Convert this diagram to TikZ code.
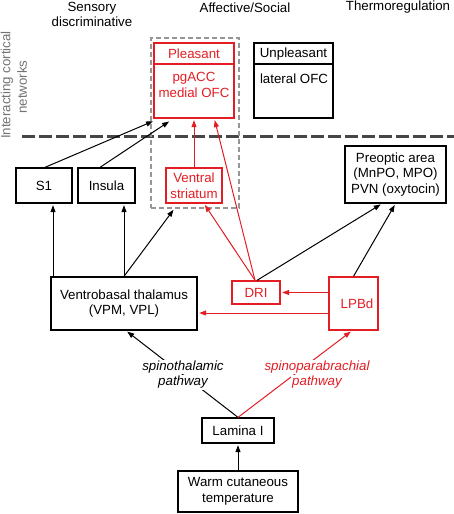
\documentclass[tikz,border=0pt]{standalone}
\usepackage{fontspec}
\setmainfont{Liberation Sans}
\usetikzlibrary{arrows.meta,calc}
\definecolor{myred}{RGB}{226,30,36}
\definecolor{txtgray}{RGB}{115,115,115}
\definecolor{dgray}{RGB}{70,70,70}
\definecolor{lgray}{RGB}{150,150,150}
\begin{document}
\begin{tikzpicture}[x=1pt,y=-1pt,
  font=\fontsize{13.3}{15.5}\selectfont,
  box/.style={draw, line width=1.3pt, inner sep=0pt, align=center},
  redbox/.style={box, draw=myred, text=myred},
  lbl/.style={inner sep=0pt, align=center},
  arr/.style={line width=1pt, -{Triangle[length=7pt,width=5pt]}, shorten >=1.5pt},
  redarr/.style={arr, draw=myred},
  pathlbl/.style={inner sep=1pt, fill=white, font=\fontsize{13.3}{15.5}\selectfont\itshape}
]
\useasboundingbox (0,0) rectangle (454,514);

% headers
\node[lbl] (hs) at (92,14.5) {Sensory\\discriminative};
\node[lbl] (ha) at (245,7.5) {Affective/Social};
\node[lbl] (ht) at (398,7.5) {Thermoregulation};
\node[lbl, rotate=90, text=txtgray] (ic1) at (7,85) {Interacting cortical};
\node[lbl, rotate=90, text=txtgray] (ic2) at (22,87) {networks};

% separator
\coordinate (sepL) at (22,136);
\coordinate (sepR) at (454,136);
\draw[dgray, line width=3pt, dash pattern=on 13pt off 4pt] (sepL) -- (sepR);

% gray dashed box
\node[draw=lgray, line width=1.2pt, dash pattern=on 5pt off 3pt, minimum width=88pt, minimum height=170pt, inner sep=0pt] (dbox) at (195,123) {};

% cortical boxes
\node[redbox, minimum width=80pt, minimum height=75pt] (pl) at (194,80.5) {};
\draw[myred, line width=1.3pt] (pl.west |- 0,64) -- (pl.east |- 0,64);
\node[lbl, text=myred] (plt) at (194,54) {Pleasant};
\node[lbl, text=myred] (plb) at (194,85) {pgACC\\medial OFC};

\node[box, minimum width=79pt, minimum height=75pt] (un) at (293.5,80.5) {};
\draw[line width=1.3pt] (un.west |- 0,64) -- (un.east |- 0,64);
\node[lbl] (unt) at (293.5,54) {Unpleasant};
\node[lbl] (unb) at (294,79) {lateral OFC};

% middle row
\node[box, minimum width=56pt, minimum height=35pt] (s1) at (44,185.5) {S1};
\node[box, minimum width=57pt, minimum height=35pt] (ins) at (106.5,185.5) {Insula};
\node[redbox, minimum width=56pt, minimum height=35pt] (vs) at (194,185.5) {Ventral\\striatum};
\node[box, minimum width=101pt, minimum height=57pt] (po) at (395.5,174.5) {Preoptic area\\(MnPO, MPO)\\PVN (oxytocin)};

% lower row
\node[box, minimum width=146pt, minimum height=53pt] (vb) at (124,303.5) {Ventrobasal thalamus\\(VPM, VPL)};
\node[redbox, minimum width=48pt, minimum height=23pt] (dri) at (256,292.5) {DRI};
\node[redbox, minimum width=49pt, minimum height=53pt] (lpb) at (353.5,303.5) {\hspace{7pt}LPBd};

\node[box, minimum width=72pt, minimum height=25pt] (lam) at (238,430.5) {Lamina I};
\node[box, minimum width=120pt, minimum height=41pt] (warm) at (238,491.5) {Warm cutaneous\\temperature};

% arrows
\draw[arr] (warm.north) -- (lam.south);
\draw[arr] (lam.north) -- ([shift={(2,0)}]vb.south);
\draw[redarr] (lam.north) -- ([shift={(-1.5,0)}]lpb.south);
\node[pathlbl] (st1) at (183,367) {spinothalamic};
\node[pathlbl] (st2) at (183,382.5) {pathway};
\node[pathlbl, text=myred] (sp1) at (317,367) {spinoparabrachial};
\node[pathlbl, text=myred] (sp2) at (317,382.5) {pathway};

\draw[redarr] (dri.east -| lpb.west) -- (dri.east);
\draw[redarr] ([shift={(0,9.5)}]lpb.west) -- ([shift={(0,9.5)}]vb.east);

\draw[arr] ([shift={(9,0)}]s1.south |- vb.north) -- ([shift={(9,0)}]s1.south);
\draw[arr] (vb.north) -- (vb.north |- ins.south);
\draw[arr] (vb.north) -- ([shift={(24,0)}]dbox.south west);

\draw[redarr] ([shift={(-1,0)}]dri.north) -- ([shift={(10,0)}]vs.south);
\draw[redarr] ([shift={(-1,0)}]dri.north) -- ([shift={(61,0)}]pl.south west);
\draw[arr] ([shift={(1,0)}]dri.north) -- ([shift={(-13.5,0)}]po.south);
\draw[arr] (lpb.north) -- (po.south);

\draw[redarr] (vs.north) -- (vs.north |- pl.south);
\draw[arr] ([shift={(1,0)}]s1.north) -- ([shift={(1,2)}]pl.south west);
\draw[arr] ([shift={(-6.5,0)}]ins.north) -- ([shift={(17,2)}]pl.south west);
\end{tikzpicture}
\end{document}
